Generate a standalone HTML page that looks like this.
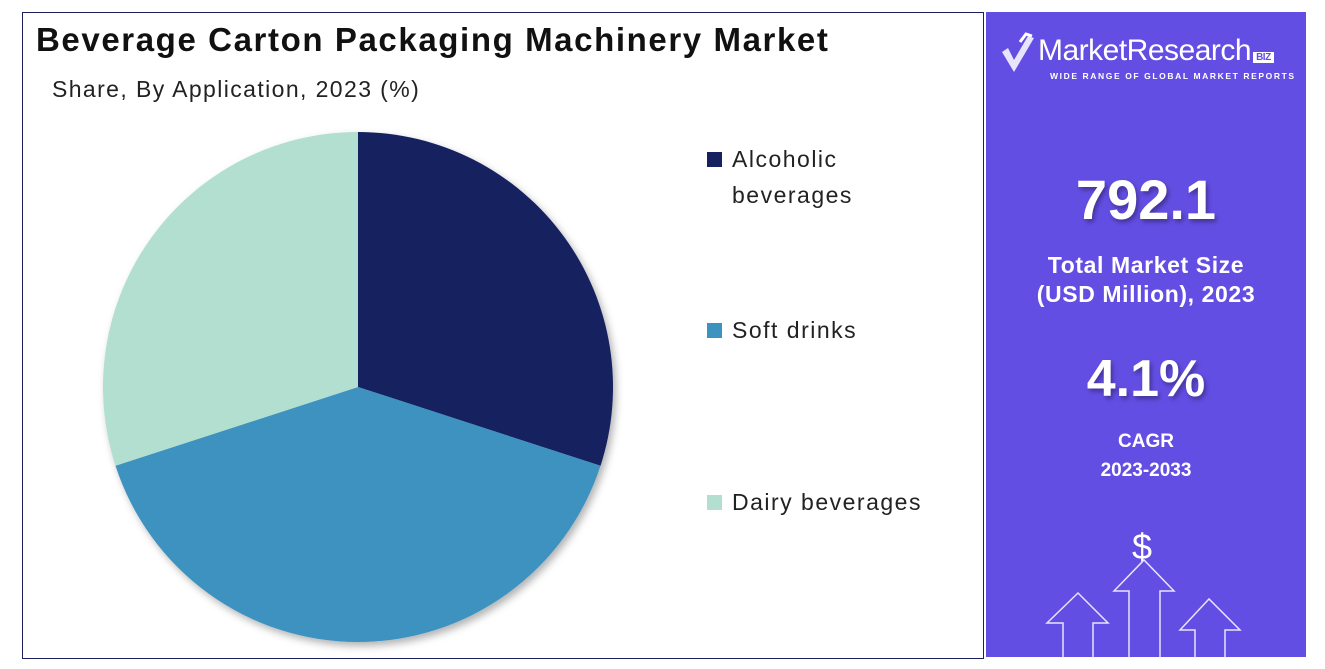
<!DOCTYPE html>
<html><head><meta charset="utf-8"><style>
body{margin:0;width:1325px;height:669px;background:#fff;font-family:"Liberation Sans",sans-serif;position:relative;overflow:hidden}
.abs{position:absolute}
</style></head><body>
<div class="abs" style="left:22px;top:12px;width:960px;height:645px;border:1.5px solid #1b1f5e"></div>
<div class="abs" style="left:36px;top:21px;font-size:33px;font-weight:bold;color:#111;letter-spacing:1.6px">Beverage Carton Packaging Machinery Market</div>
<div class="abs" style="left:52px;top:76px;font-size:23px;color:#222;letter-spacing:1.4px">Share, By Application, 2023 (%)</div>
<svg class="abs" style="left:0;top:0" width="985" height="669">
<defs><filter id="sh"><feDropShadow dx="3" dy="4" stdDeviation="4" flood-opacity="0.3"/></filter></defs>
<g id="pie" filter="url(#sh)"></g>
<g id="legend"></g>
</svg>
<div class="abs" style="left:986px;top:12px;width:320px;height:645px;background:#634ee4">
<svg class="abs" style="left:12px;top:18px" width="40" height="50"><path d="M4 22 L16 42 L36 8 L30 6 L16 30 L10 18 Z" fill="#fff" opacity="0.85"/><path d="M22 12 L28 4 L34 6" stroke="#fff" stroke-width="3" fill="none"/></svg>
<div class="abs" style="left:52px;top:22px;font-size:30px;color:#fff;letter-spacing:-0.5px">MarketResearch<span style="font-size:10px;background:#fff;color:#634ee4;padding:0 3px;margin-left:2px;font-weight:bold">BIZ</span></div>
<div class="abs" style="left:64px;top:59px;font-size:8.5px;font-weight:bold;color:#fff;letter-spacing:1.6px">WIDE RANGE OF GLOBAL MARKET REPORTS</div>
<div class="abs" style="left:0;width:320px;top:155px;text-align:center;font-size:56px;font-weight:bold;color:#fff;text-shadow:2px 3px 5px rgba(0,0,0,.35)">792.1</div>
<div class="abs" style="left:0;width:320px;top:239px;text-align:center;font-size:23px;font-weight:bold;color:#fff;line-height:29px;letter-spacing:0.6px">Total Market Size<br>(USD Million), 2023</div>
<div class="abs" style="left:0;width:320px;top:337px;text-align:center;font-size:52px;font-weight:bold;color:#fff;text-shadow:2px 3px 5px rgba(0,0,0,.35)">4.1%</div>
<div class="abs" style="left:0;width:320px;top:415px;text-align:center;font-size:19px;font-weight:bold;color:#fff;line-height:29px">CAGR<br>2023-2033</div>
<div class="abs" style="left:146px;top:514px;font-size:36px;color:#fff">$</div>
<svg class="abs" style="left:0;top:0" width="320" height="645" fill="none" stroke="#e8e4ff" stroke-width="1.5">
<path d="M143 645 V579 H128 L158 548 L188 579 H174 V645"/>
<path d="M77 645 V611 H61 L92 581 L122 611 H107 V645"/>
<path d="M209 645 V618 H194 L223 587 L254 618 H239 V645"/>
</svg>
</div>
<script>
const categories=["Alcoholic beverages","Soft drinks","Dairy beverages"];
const shares=[30,40,30];
const colors=["#172060","#3d92c0","#b2dfd0"];
const legendLines=[["Alcoholic","beverages"],["Soft drinks"],["Dairy beverages"]];
const NS="http://www.w3.org/2000/svg";
const cx=358,cy=387,r=255;
const pie=document.getElementById('pie');
const total=shares.reduce((a,b)=>a+b,0);
let a0=0;
function pt(a){return [cx+r*Math.sin(a),cy-r*Math.cos(a)];}
shares.forEach((v,i)=>{
 const a1=a0+v/total*2*Math.PI;
 const [x0,y0]=pt(a0),[x1,y1]=pt(a1);
 const p=document.createElementNS(NS,'path');
 p.setAttribute('d',`M${cx},${cy} L${x0},${y0} A${r},${r} 0 ${a1-a0>Math.PI?1:0} 1 ${x1},${y1} Z`);
 p.setAttribute('fill',colors[i]);
 
 
 pie.appendChild(p);a0=a1;
});
const lg=document.getElementById('legend');
const ly=[159,330,502];
categories.forEach((c,i)=>{
 const g=document.createElementNS(NS,'g');
 
 
 const s=document.createElementNS(NS,'rect');
 s.setAttribute('x',707);s.setAttribute('y',ly[i]-7);s.setAttribute('width',15);s.setAttribute('height',15);s.setAttribute('fill',colors[i]);
 g.appendChild(s);
 legendLines[i].forEach((t,j)=>{
  const tx=document.createElementNS(NS,'text');
  tx.setAttribute('x',732);tx.setAttribute('y',ly[i]+8+j*36);
  tx.setAttribute('font-size','23');tx.setAttribute('fill','#222');
  tx.setAttribute('letter-spacing','1.5');
  tx.setAttribute('font-family','Liberation Sans, sans-serif');
  tx.textContent=t;g.appendChild(tx);
 });
 lg.appendChild(g);
});
</script>
</body></html>
